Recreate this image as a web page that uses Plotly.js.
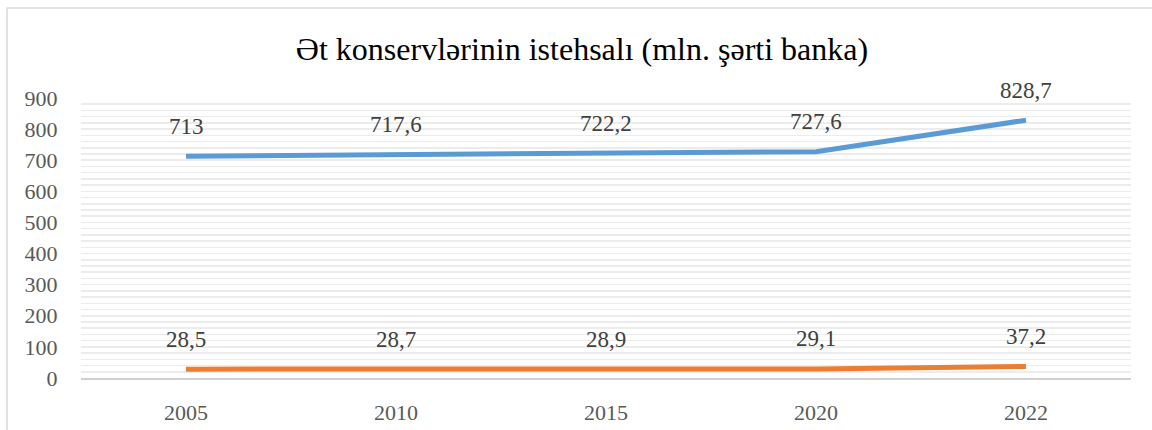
<!DOCTYPE html>
<html>
<head>
<meta charset="utf-8">
<script src="https://cdn.plot.ly/plotly-3.0.1.min.js"></script>
<style>html,body{margin:0;padding:0;background:#fff;}#chart{width:1152px;height:430px;}</style>
</head>
<body>
<div id="chart"></div>
<script>
const years = ['2005', '2010', '2015', '2020', '2022'];
const seriesA = [713, 717.6, 722.2, 727.6, 828.7];
const seriesB = [28.5, 28.7, 28.9, 29.1, 37.2];
const yTicks = [0, 100, 200, 300, 400, 500, 600, 700, 800, 900];
const titleText = 'Ət konservlərinin istehsalı (mln. şərti banka)';

const fmt = v => String(v).replace('.', ',');
const font = 'Liberation Serif';

const traces = [
  {x: years, y: seriesA, type: 'scatter', mode: 'lines', line: {color: '#5b9bd5', width: 5, shape: 'linear'}, hoverinfo: 'skip'},
  {x: years, y: seriesB, type: 'scatter', mode: 'lines', line: {color: '#ed7d31', width: 5, shape: 'linear'}, hoverinfo: 'skip'}
];

const annotations = [];
[seriesA, seriesB].forEach(s => {
  s.forEach((v, i) => {
    annotations.push({x: i, y: v, xref: 'x', yref: 'y', text: fmt(v), showarrow: false,
      yshift: 30, font: {family: font, size: 23, color: '#404040'}});
  });
});

const L = 81, R = 21, T = 98, B = 52, W = 1152, H = 430;
const pw = W - L - R, ph = H - T - B;

const layout = {
  width: W, height: H,
  font: {family: font},
  margin: {l: L, r: R, t: T, b: B, pad: 0},
  paper_bgcolor: '#ffffff', plot_bgcolor: '#ffffff',
  showlegend: false,
  title: {text: titleText, font: {family: font, size: 32, color: '#000000'}, x: 582 / W, xanchor: 'center', y: 1 - 49 / H, yanchor: 'middle'},
  xaxis: {type: 'category', categoryorder: 'array', categoryarray: years, range: [-0.5, years.length - 0.5], autorange: false,
    showgrid: false, zeroline: false, showline: true, linecolor: '#d0d0d0', linewidth: 2,
    ticks: 'outside', ticklen: 14, tickcolor: 'rgba(0,0,0,0)',
    tickfont: {family: font, size: 22, color: '#595959'}, fixedrange: true},
  yaxis: {range: [0, 900], autorange: false, tickvals: yTicks, ticktext: yTicks.map(String), showgrid: true, gridcolor: '#ececec', gridwidth: 1.5,
    minor: {dtick: 20, showgrid: true, gridcolor: '#ececec', gridwidth: 1.5},
    zeroline: false, showline: false, ticks: 'outside', ticklen: 18, tickcolor: 'rgba(0,0,0,0)',
    tickfont: {family: font, size: 22, color: '#595959'}, fixedrange: true},
  annotations: annotations,
  shapes: [{type: 'rect', xref: 'paper', yref: 'paper', layer: 'below',
    x0: (7 - L) / pw, x1: (1160 - L) / pw, y0: -(440 - (H - B)) / ph, y1: 1 + (T - 8) / ph,
    line: {color: '#d9d9d9', width: 1.5}, fillcolor: 'rgba(0,0,0,0)'}]
};

Plotly.newPlot('chart', traces, layout, {staticPlot: true, displayModeBar: false});
</script>
</body>
</html>
